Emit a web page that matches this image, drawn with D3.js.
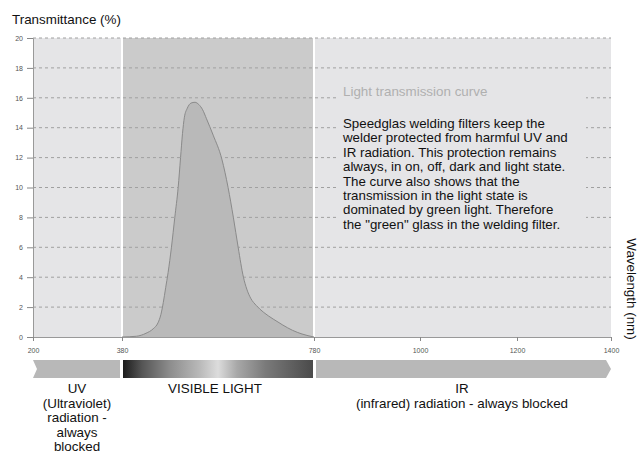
<!DOCTYPE html>
<html>
<head>
<meta charset="utf-8">
<script src="https://cdn.jsdelivr.net/npm/d3@7/dist/d3.min.js"></script>
<style>
  html, body { margin: 0; padding: 0; background: #fff; }
  svg { display: block; font-family: "Liberation Sans", Arial, sans-serif; }
</style>
</head>
<body>
<svg id="chart" width="640" height="466"></svg>
<script>
// ---- data ----
const wavelengths = [380, 410, 430, 445, 455, 461, 466, 471, 476, 483, 490, 497, 502, 506, 510, 516, 524, 532, 540, 548, 556, 570, 588, 601, 612, 622, 633, 640, 648, 660, 675, 695, 715, 735, 755, 780];
const transmittance = [0, 0.05, 0.25, 0.55, 0.95, 1.5, 2.3, 3.3, 4.3, 6.0, 8.0, 10.0, 12.0, 13.6, 14.7, 15.3, 15.65, 15.7, 15.55, 15.2, 14.6, 13.5, 11.9, 10.0, 8.0, 6.0, 4.0, 3.2, 2.6, 2.1, 1.65, 1.2, 0.8, 0.45, 0.2, 0];
const xTicks = [200, 380, 780, 1000, 1200, 1400];
const yTicks = [0, 2, 4, 6, 8, 10, 12, 14, 16, 18, 20];
const visibleRange = [380, 780];
const boxTitle = "Light transmission curve";
const boxLines = [
  "Speedglas welding filters keep the",
  "welder protected from harmful UV and",
  "IR radiation. This protection remains",
  "always, in on, off, dark and light state.",
  "The curve also shows that the",
  "transmission in the light state is",
  "dominated by green light. Therefore",
  "the \"green\" glass in the welding filter."
];
const uvLabel = ["UV", "(Ultraviolet)", "radiation -", "always", "blocked"];
const visLabel = ["VISIBLE LIGHT"];
const irLabel = ["IR", "(infrared) radiation - always blocked"];

// ---- scales ----
const svg = d3.select("#chart");
const x = d3.scaleLinear().domain(xTicks).range([33, 122, 314, 420, 517, 611]);
const y = d3.scaleLinear().domain([0, 20]).range([337, 38]);
const x0 = x(200), x1 = x(1400);

// background
svg.append("rect").attr("x", x0).attr("y", y(20)).attr("width", x1 - x0).attr("height", y(0) - y(20)).attr("fill", "#e5e5e7");
svg.append("rect").attr("x", x(visibleRange[0])).attr("y", y(20)).attr("width", x(visibleRange[1]) - x(visibleRange[0])).attr("height", y(0) - y(20)).attr("fill", "#cbcbcb");

// gridlines
svg.append("g").selectAll("line").data(yTicks.filter(d => d > 0)).join("line")
  .attr("x1", x0).attr("x2", x1).attr("y1", d => y(d)).attr("y2", d => y(d))
  .attr("stroke", "#a0a0a0").attr("stroke-width", 1).attr("stroke-dasharray", "3,3");

// white separators
svg.append("g").selectAll("line").data(visibleRange).join("line")
  .attr("x1", d => x(d)).attr("x2", d => x(d)).attr("y1", y(20)).attr("y2", y(0))
  .attr("stroke", "#ffffff").attr("stroke-width", 2);

// curve
const pts = wavelengths.map((w, i) => [w, transmittance[i]]);
const area = d3.area().x(d => x(d[0])).y0(y(0)).y1(d => y(d[1])).curve(d3.curveMonotoneX);
const line = d3.line().x(d => x(d[0])).y(d => y(d[1])).curve(d3.curveMonotoneX);
svg.append("path").datum(pts).attr("d", area).attr("fill", "#b9b9b9");
svg.append("path").datum(pts).attr("d", line).attr("fill", "none").attr("stroke", "#8a8a8a").attr("stroke-width", 1);

// text box
svg.append("rect").attr("x", 336).attr("y", 76).attr("width", 250).attr("height", 160).attr("fill", "#e5e5e7");
svg.append("text").attr("x", 343).attr("y", 96).attr("font-size", 13.4).attr("fill", "#b0b0b0").text(boxTitle);
svg.append("g").selectAll("text").data(boxLines).join("text")
  .attr("x", 343).attr("y", (d, i) => 128 + i * 14.4).attr("font-size", 13.3).attr("fill", "#111").text(d => d);

// axes
const yAxis = d3.axisLeft(y).tickValues(yTicks).tickSize(6).tickPadding(4);
const gy = svg.append("g").attr("transform", `translate(${x0},0)`).call(yAxis);
gy.select(".domain").attr("stroke", "#999");
gy.selectAll(".tick line").attr("stroke", "#888");
gy.selectAll(".tick text").attr("font-size", 7).attr("fill", "#555").attr("font-family", "Liberation Sans, Arial, sans-serif");

const xAxis = d3.axisBottom(x).tickValues(xTicks).tickFormat(d3.format("d")).tickSize(4).tickPadding(7);
const gx = svg.append("g").attr("transform", `translate(0,${y(0)})`).call(xAxis);
gx.select(".domain").attr("stroke", "#999");
gx.selectAll(".tick line").attr("stroke", "#888");
gx.selectAll(".tick text").attr("font-size", 7).attr("fill", "#555").attr("font-family", "Liberation Sans, Arial, sans-serif");

// axis titles
svg.append("text").attr("x", 12).attr("y", 24).attr("font-size", 13.4).attr("fill", "#111").text("Transmittance (%)");
svg.append("text").attr("transform", "translate(627,289) rotate(90)").attr("text-anchor", "middle")
  .attr("font-size", 13.4).attr("fill", "#111").text("Wavelength (nm)");

// spectrum bar
const bTop = 360, bBot = 378, bMid = (bTop + bBot) / 2;
const defs = svg.append("defs");
const grad = defs.append("linearGradient").attr("id", "vis").attr("x1", "0").attr("x2", "1").attr("y1", "0").attr("y2", "0");
[[0, "#1c1c1c"], [0.1, "#555"], [0.25, "#8e8e8e"], [0.4, "#b8b8b8"], [0.5, "#dcdcdc"], [0.6, "#a8a8a8"], [0.75, "#7a7a7a"], [1, "#4a4a4a"]]
  .forEach(([o, c]) => grad.append("stop").attr("offset", o).attr("stop-color", c));

svg.append("path").attr("fill", "#b8b8b8")
  .attr("d", `M${x0},${bTop}L${x(380) - 2},${bTop}L${x(380) - 2},${bBot}L${x0},${bBot}L${x0 + 4},${bMid}Z`);
svg.append("rect").attr("x", x(380) + 1).attr("y", bTop).attr("width", x(780) - x(380) - 2).attr("height", bBot - bTop).attr("fill", "url(#vis)");
svg.append("path").attr("fill", "#b8b8b8")
  .attr("d", `M${x(780) + 2},${bTop}L${x1 - 5},${bTop}L${x1},${bMid}L${x1 - 5},${bBot}L${x(780) + 2},${bBot}Z`);

// region labels
function label(lines, cx, y0) {
  svg.append("g").selectAll("text").data(lines).join("text")
    .attr("x", cx).attr("y", (d, i) => y0 + i * 14.6).attr("text-anchor", "middle")
    .attr("font-size", 13.4).attr("fill", "#111").text(d => d);
}
label(uvLabel, 77, 393);
label(visLabel, 215, 393);
label(irLabel, 462, 393);
</script>
</body>
</html>
